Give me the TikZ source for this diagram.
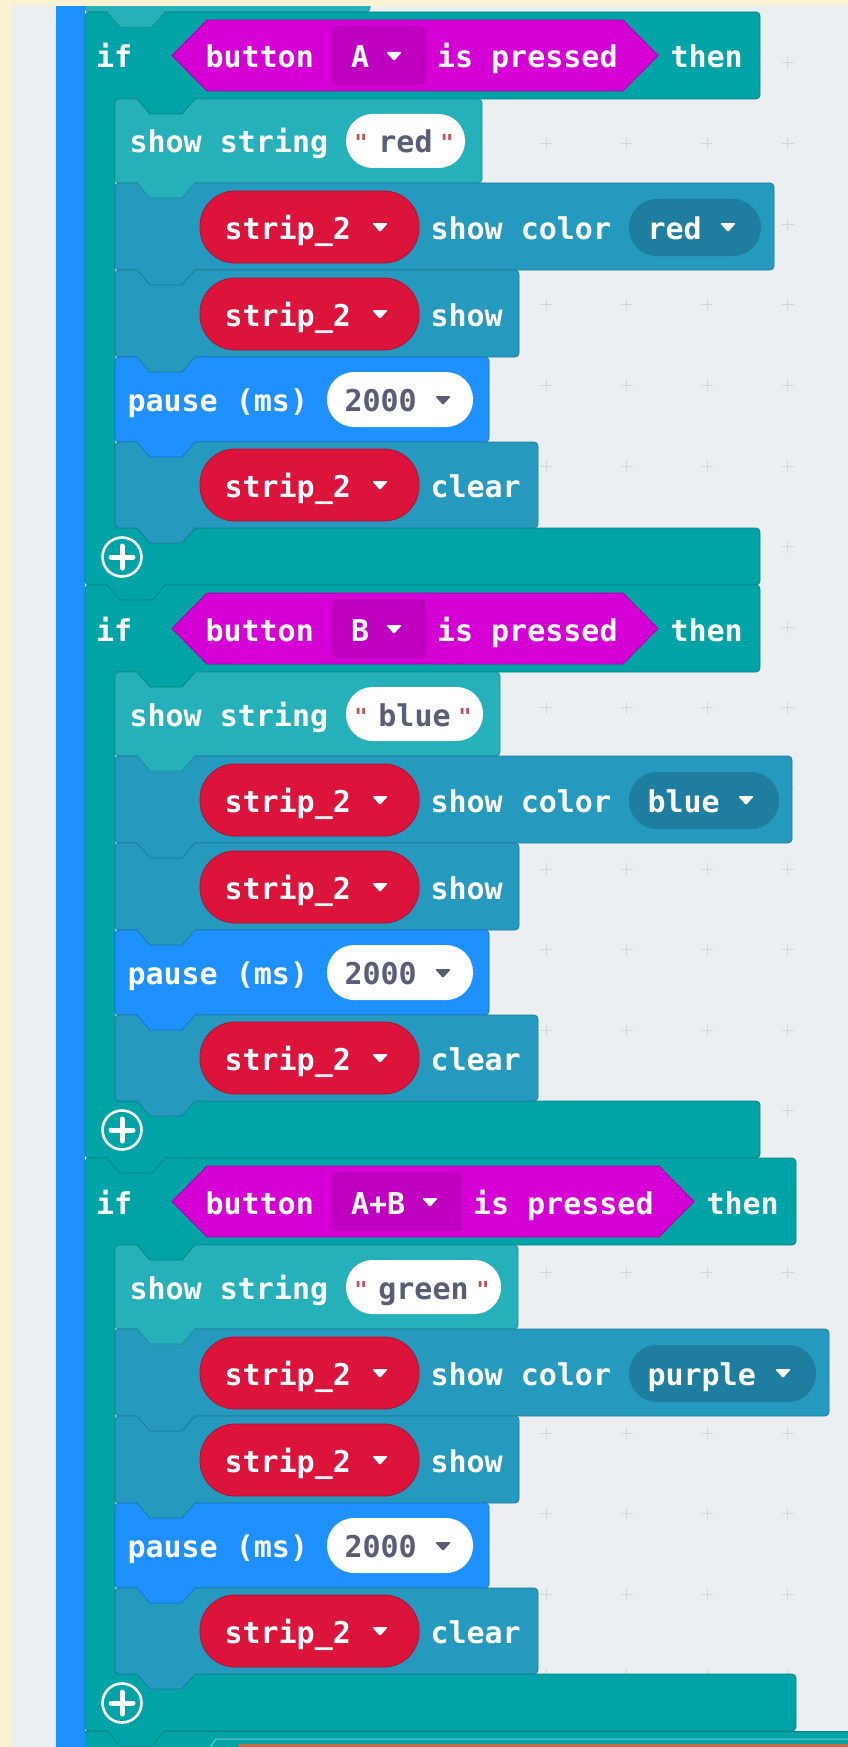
\documentclass[tikz,border=0pt]{standalone}
\usepackage{fontspec}
\newfontfamily\blockfont{DejaVu Sans Mono}
\definecolor{cBeige}{RGB}{251,242,212}
\definecolor{cWS}{RGB}{236,239,241}
\definecolor{cGrid}{RGB}{210,215,219}
\definecolor{cBasic}{RGB}{30,144,255}
\definecolor{cLogic}{RGB}{0,164,166}
\definecolor{cStr}{RGB}{38,176,186}
\definecolor{cNeo}{RGB}{38,153,191}
\definecolor{cNeoDark}{RGB}{31,125,160}
\definecolor{cVar}{RGB}{220,20,60}
\definecolor{cInput}{RGB}{212,0,212}
\definecolor{cInputDD}{RGB}{192,0,192}
\definecolor{cInputD}{RGB}{168,0,168}
\definecolor{cText}{RGB}{87,94,117}
\definecolor{cQuote}{RGB}{200,80,80}
\definecolor{cOrange}{RGB}{200,106,74}

\newcommand\ddarrow[3]{\fill[#1, rounded corners=1.2] (#2,#3) -- (#2+16,#3) -- (#2+8,#3+9) -- cycle;}
\newcommand\tabnotch[3]{\fill[#1] (#2+22,#3-1) -- (#2+35,#3+15) -- (#2+67,#3+15) -- (#2+80,#3-1) -- cycle;
  \draw[#1!80!black, line width=0.8] (#2+22,#3) -- (#2+35,#3+15) -- (#2+67,#3+15) -- (#2+80,#3);}
\newcommand\blockbody[4]{\filldraw[fill=#1, draw=#1!80!black, line width=0.8, rounded corners=4] (115,#2) rectangle (#4,#3);}
\newcommand\strippill[2]{%
  \filldraw[fill=cVar, draw=cVar!80!black, line width=0.8, rounded corners=35] (200,#1) rectangle (419,#1+72);
  \node[lbl] (#2) at (224.5,#1+48) {strip\_2};
  \ddarrow{white}{372}{#1+32}}

% #1 top, #2 extra width of button dropdown, #3 button label, #4 string,
% #5 string pill right, #6 show string block right, #7 colour, #8 colour pill right, #9 show colour block right
\newcommand\ifblock[9]{%
  \filldraw[fill=cLogic, draw=cLogic!80!black, line width=0.8, rounded corners=4]
    (85,#1) -- (760+#2,#1) -- (760+#2,#1+87) -- (115,#1+87) -- (115,#1+516)
    -- (760+#2,#1+516) -- (760+#2,#1+573) -- (85,#1+573) -- cycle;
  \filldraw[fill=cInput, draw=cInputD, line width=0.8]
    (172,#1+43.5) -- (207,#1+8) -- (623+#2,#1+8) -- (658+#2,#1+43.5) -- (623+#2,#1+79) -- (207,#1+79) -- cycle;
  \filldraw[fill=cInputDD, draw=cInputD, line width=0.8, rounded corners=4] (333,#1+15) rectangle (425+#2,#1+72);
  \node[lbl] (if#1) at (96,#1+56) {if};
  \node[lbl] (button#1) at (205.5,#1+56) {button};
  \node[lbl] (btn#1) at (351,#1+56) {#3};
  \ddarrow{white}{386+#2}{#1+40}
  \node[lbl] (pressed#1) at (437+#2,#1+56) {is pressed};
  \node[lbl] (then#1) at (670.5+#2,#1+56) {then};
  % show string
  \blockbody{cStr}{#1+87}{#1+171}{#6}
  \node[lbl] (showstr#1) at (129.5,#1+141) {show string};
  \fill[white, rounded corners=26.5] (346,#1+102) rectangle (#5,#1+156);
  \node[qt] (ql#1) at (361,#1+139) {"};
  \node[qt] (qr#1) at (#5-18,#1+139) {"};
  \node[lbl, anchor=base, text=cText] (str#1) at ({(346+#5)/2},#1+141) {#4};
  % show colour
  \blockbody{cNeo}{#1+171}{#1+258}{#9}
  \strippill{#1+179}{stripa#1}
  \node[lbl] (showcol#1) at (430.5,#1+227) {show color};
  \fill[cNeoDark, rounded corners=28] (629,#1+187) rectangle (#8,#1+244);
  \node[lbl] (col#1) at (647.5,#1+227) {#7};
  \ddarrow{white}{#8-41}{#1+211}
  % show
  \blockbody{cNeo}{#1+258}{#1+345}{519}
  \strippill{#1+266}{stripb#1}
  \node[lbl] (show#1) at (430.5,#1+314) {show};
  % pause
  \blockbody{cBasic}{#1+345}{#1+430}{489}
  \node[lbl] (pause#1) at (127.5,#1+399.5) {pause (ms)};
  \fill[white, rounded corners=27] (327,#1+360) rectangle (473,#1+415);
  \node[lbl, text=cText] (ms#1) at (344.5,#1+399.5) {2000};
  \ddarrow{cText}{435}{#1+384}
  % clear
  \blockbody{cNeo}{#1+430}{#1+516}{538}
  \strippill{#1+437}{stripc#1}
  \node[lbl] (clear#1) at (430.5,#1+485) {clear};
  % plus
  \draw[white, line width=2.6] (122,#1+545) circle (19.5);
  \draw[white, line width=5, line cap=round] (111,#1+545) -- (133,#1+545) (122,#1+534) -- (122,#1+556);
  % tabs
  \tabnotch{cLogic}{115}{#1+87}
  \tabnotch{cStr}{115}{#1+171}
  \tabnotch{cNeo}{115}{#1+258}
  \tabnotch{cNeo}{115}{#1+345}
  \tabnotch{cBasic}{115}{#1+430}
  \tabnotch{cNeo}{115}{#1+516}
}

\begin{document}
\begin{tikzpicture}[x=1pt,y=-1pt,
  lbl/.style={anchor=base west, inner sep=0pt, outer sep=0pt, text=white,
    font=\blockfont\bfseries\fontsize{30}{30}\selectfont},
  qt/.style={anchor=base, inner sep=0pt, text=cQuote,
    font=\blockfont\bfseries\fontsize{22}{22}\selectfont}]
\useasboundingbox (0,0) rectangle (848,1747);
\fill[cBeige] (0,0) rectangle (848,1747);
\fill[cWS] (11,6) rectangle (848,1747);
% grid
\foreach \gx in {546,626.6,707.2,787.8}{
  \foreach \k in {0,...,21}{
    \draw[cGrid, line width=1] (\gx-6,63+80.6*\k) -- (\gx+6,63+80.6*\k)
      (\gx,57+80.6*\k) -- (\gx,69+80.6*\k);
  }}
% forever bar
\fill[cBasic] (56,0) rectangle (85,1747);
% fragment of block above
\filldraw[fill=cStr, draw=cStr!80!black, line width=0.8, rounded corners=4] (85,-10) rectangle (370,12);
% if blocks
\ifblock{12}{0}{A}{red}{465}{482}{red}{761}{774}
\ifblock{585}{0}{B}{blue}{483}{500}{blue}{779}{792}
\ifblock{1158}{36}{A+B}{green}{501}{518}{purple}{816}{829}
% block below
\fill[cLogic] (85,1731) rectangle (850,1750);
\draw[cLogic!80!black, line width=0.8] (85,1731) -- (850,1731);
\draw[cLogic!55!white, line width=1] (208,1750) -- (216,1739) -- (850,1739);
\fill[cOrange, rounded corners=3] (238,1744) rectangle (850,1756);
% tabs between stacked blocks
\tabnotch{cStr}{85}{12}
\tabnotch{cLogic}{85}{585}
\tabnotch{cLogic}{85}{1158}
\tabnotch{cLogic}{85}{1731}
% frame
\fill[cBeige] (0,0) rectangle (848,6);
\fill[cBeige] (0,0) rectangle (11,1747);
\end{tikzpicture}
\end{document}
